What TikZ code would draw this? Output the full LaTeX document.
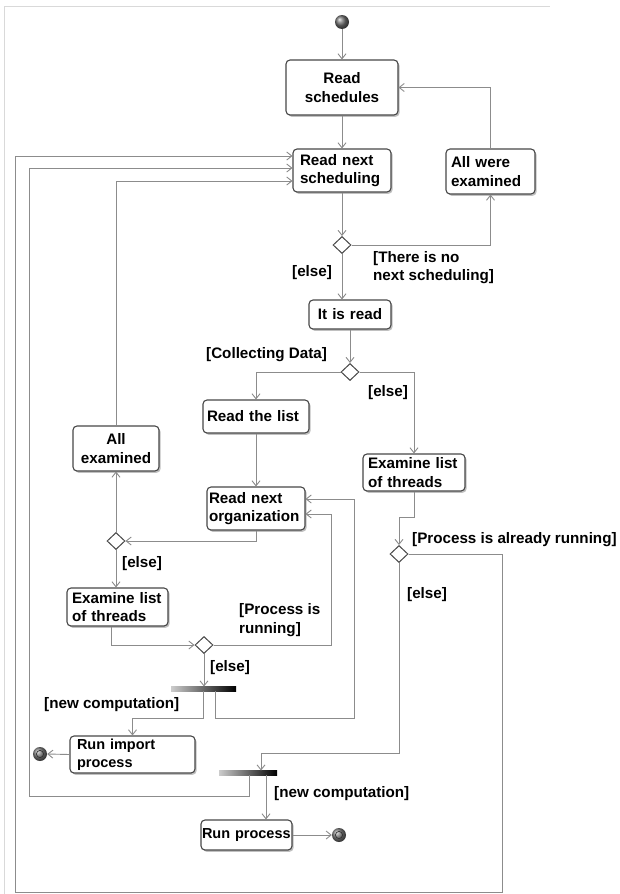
\documentclass[tikz,border=0pt]{standalone}
\usepackage{fontspec}
\setmainfont{Liberation Sans}
\usetikzlibrary{arrows.meta,shapes.geometric,shadows}

\newcommand\txtfont{\fontsize{15.2}{18.5}\selectfont\bfseries}
\newcommand\runfont{\fontsize{14.5}{17.5}\selectfont\bfseries}

\tikzset{
  act/.style={draw=black!72, line width=1.1pt, rounded corners=4pt, fill=white,
    inner sep=0pt, font=\txtfont,
    drop shadow={shadow xshift=1.6pt, shadow yshift=-1.8pt, fill=black!35, opacity=0.7}},
  decision/.style={diamond, draw=black!72, line width=1pt, fill=white, inner sep=0pt,
    minimum width=18pt, minimum height=17pt},
  flow/.style={draw=black!45, line width=0.9pt, -{Straight Barb[length=5pt,width=8pt]}},
  guard/.style={font=\txtfont, inner sep=0pt, anchor=west, align=left},
  syncbar/.style={rectangle, inner sep=0pt, minimum height=4.5pt, left color=black!20, right color=black},
  startnode/.style={circle, inner sep=0pt, minimum size=14pt, ball color=black!55},
  endnode/.style={circle, inner sep=0pt, minimum size=14pt, ball color=black!50,
    path picture={\draw[black!80, line width=0.7pt] (path picture bounding box.center) circle (3.6pt);}},
  frameline/.style={draw=black!15, line width=1pt}
}

\begin{document}
\begin{tikzpicture}[x=1pt, y=-1pt]
\useasboundingbox (0,0) rectangle (619,894);
\fill[white] (0,0) rectangle (619,894);

% window edge
\draw[frameline] (4,894) -- (4,6) -- (550,6);

% actions
\node[startnode] (init) at (342,22) {};
\node[act, minimum width=112pt, minimum height=55pt, text width=100pt, align=center] (rs) at (342,87.5) {Read\\schedules};
\node[act, minimum width=98pt, minimum height=43pt, text width=84pt, align=left] (rns) at (342,170.5) {Read next\\scheduling};
\node[act, minimum width=89pt, minimum height=45pt, text width=79pt, align=left] (awe) at (490.5,171.5) {All were\\examined};
\node[decision] (d1) at (342,245) {};
\node[act, minimum width=82pt, minimum height=29pt, text width=75pt, align=center] (iir) at (350,314.5) {It is read};
\node[decision] (d2) at (350,372) {};
\node[act, minimum width=106pt, minimum height=33pt, text width=98pt, align=left] (rtl) at (256,416.5) {Read the list};
\node[act, minimum width=86pt, minimum height=45pt, text width=78pt, align=center] (ae) at (116,448.5) {All\\examined};
\node[act, minimum width=98pt, minimum height=43pt, text width=94pt, align=left] (rno) at (256,508.5) {Read next\\organization};
\node[act, minimum width=102pt, minimum height=37pt, text width=92pt, align=left] (elr) at (414,472.5) {Examine list\\of threads};
\node[decision] (d3) at (116,541) {};
\node[decision] (d4) at (399,554) {};
\node[act, minimum width=101pt, minimum height=38pt, text width=91pt, align=left] (ell) at (117.5,607) {Examine list\\of threads};
\node[decision] (d5) at (204,645) {};
\node[syncbar, minimum width=65pt] (b1) at (203.5,689) {};
\node[act, font=\runfont, minimum width=125pt, minimum height=37pt, text width=111pt, align=left] (rip) at (132.5,754.5) {Run import\\process};
\node[endnode] (fin1) at (40,754) {};
\node[syncbar, minimum width=58pt] (b2) at (248,773) {};
\node[act, font=\runfont, minimum width=91pt, minimum height=30pt, text width=89pt, align=left] (rp) at (246.5,835) {Run process};
\node[endnode] (fin2) at (339,835) {};

% entry points on the left side of "Read next scheduling"
\coordinate (rnsA) at ([yshift=14.5pt]rns.west);
\coordinate (rnsB) at ([yshift=2.5pt]rns.west);
\coordinate (rnsC) at ([yshift=-10.5pt]rns.west);

% flows
\draw[flow] (init.south) -- (rs.north);
\draw[flow] (rs.south) -- (rns.north);
\draw[flow] (rns.south) -- (d1.north);
\draw[flow] (d1.east) -| (awe.south);
\draw[flow] (awe.north) |- (rs.east);
\draw[flow] (d1.south) -- (d1.south |- iir.north);
\draw[flow] (iir.south) -- (d2.north);
\draw[flow] (d2.west) -| (rtl.north);
\draw[flow] (d2.east) -| (elr.north);
\draw[flow] (rtl.south) -- (rno.north);
\draw[flow] (rno.south) |- (d3.east);
\draw[flow] (d3.north) -- (ae.south);
\draw[flow] (ae.north) |- (rnsC);
\draw[flow] (d3.south) -- (d3.south |- ell.north);
\draw[flow] ([xshift=-6.5pt]ell.south) |- (d5.west);
\draw[flow] (d5.east) -- ++(118,0) |- ([yshift=-5.5pt]rno.east);
\draw[flow] (d5.south) -- (d5.south |- b1.north);
\draw[flow] ([xshift=-0.5pt]b1.south) -- ++(0,27) -| (rip.north);
\draw[flow] ([xshift=11.5pt]b1.south) -- ++(0,27) -- ++(139,0) |- ([yshift=9.5pt]rno.east);
\draw[flow] (rip.west) -- (fin1.east);
\draw[flow] (elr.south) -- ++(0,26) -| (d4.north);
\draw[flow] (d4.east) -| (502,892) -| (15,156) -- (rnsA);
\draw[flow] (d4.south) -- ++(0,190) -| ([xshift=13pt]b2.north);
\draw[flow] ([xshift=1pt]b2.south) -- ++(0,21) -| (29,168) -- (rnsB);
\draw[flow] ([xshift=18pt]b2.south) -- ([xshift=18pt]b2.south |- rp.north);
\draw[flow] (rp.east) -- (fin2.west);

% guards
\node[guard] (g1) at (373,267.5) {[There is no\\next scheduling]};
\node[guard] (g2) at (292,273) {[else]};
\node[guard] (g3) at (206,355) {[Collecting Data]};
\node[guard] (g4) at (368,393) {[else]};
\node[guard] (g5) at (122,564) {[else]};
\node[guard] (g6) at (239,620) {[Process is\\running]};
\node[guard] (g7) at (210,668) {[else]};
\node[guard] (g8) at (44,705) {[new computation]};
\node[guard] (g9) at (412,540) {[Process is already running]};
\node[guard] (g10) at (407,595) {[else]};
\node[guard] (g11) at (274,794) {[new computation]};
\end{tikzpicture}
\end{document}
